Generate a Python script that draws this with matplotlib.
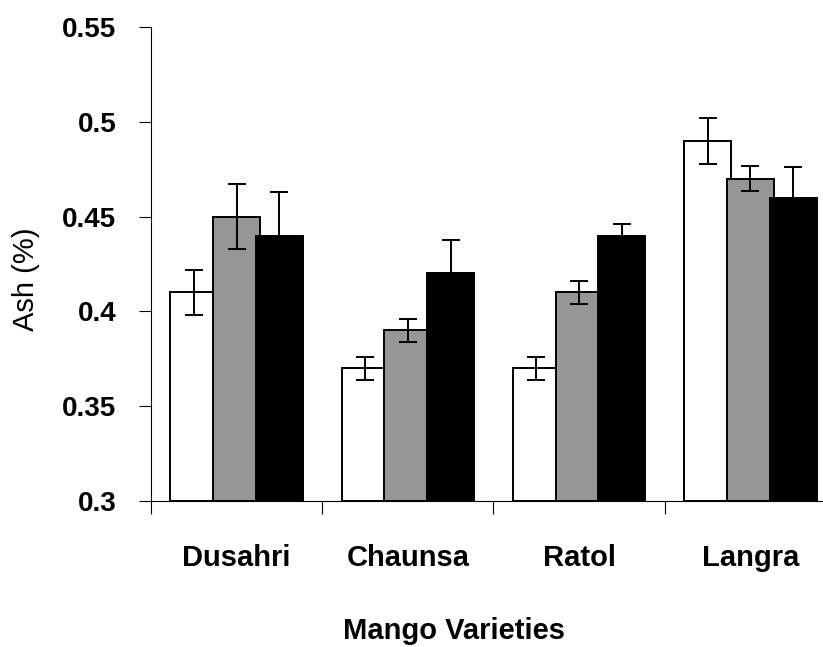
import numpy as np
import matplotlib
matplotlib.use("Agg")
import matplotlib.pyplot as plt

varieties = ["Dusahri", "Chaunsa", "Ratol", "Langra"]
series_a = [0.41, 0.37, 0.37, 0.49]
series_b = [0.45, 0.39, 0.41, 0.47]
series_c = [0.44, 0.42, 0.44, 0.46]
err_a = [0.012, 0.006, 0.006, 0.012]
err_b = [0.017, 0.006, 0.006, 0.0065]
err_c = [0.023, 0.0175, 0.006, 0.016]
y_ticks = [0.3, 0.35, 0.4, 0.45, 0.5, 0.55]
y_tick_labels = ["0.3", "0.35", "0.4", "0.45", "0.5", "0.55"]

plt.rcParams['font.family'] = ['Liberation Sans', 'DejaVu Sans']

fig = plt.figure(figsize=(8.23, 6.47), dpi=100)
ax = fig.add_axes([151/823, 1 - 501/647, 685/823, 474/647])

x = np.arange(len(varieties))
width = 0.275
offset = 0.25
series = [(series_a, err_a, 'white'), (series_b, err_b, '#969696'), (series_c, err_c, 'black')]
for i, (vals, errs, col) in enumerate(series):
    pos = x + (i - 1) * offset
    ax.bar(pos, np.array(vals) - 0.3, width, bottom=0.3, color=col,
           edgecolor='black', linewidth=1.4, zorder=2)
    ax.errorbar(pos, vals, yerr=errs, fmt='none', ecolor='black',
                elinewidth=1.4, capsize=6.5, capthick=1.4, zorder=3)

ax.set_xlim(-0.5, 3.5)
ax.set_ylim(0.3, 0.55)
ax.set_yticks(y_ticks)
ax.set_yticklabels(y_tick_labels, fontsize=20, fontweight='bold')
ax.set_xticks(x)
ax.set_xticklabels(varieties, fontsize=21, fontweight='bold')
ax.set_xticks(np.arange(-0.5, 3.6, 1.0), minor=True)
ax.tick_params(axis='x', which='major', length=0, pad=31)
ax.tick_params(axis='x', which='minor', length=9, width=0.8, direction='out')
ax.tick_params(axis='y', length=9, width=0.8, direction='out', pad=16)

for s in ['top', 'right']:
    ax.spines[s].set_visible(False)
for s in ['left', 'bottom']:
    ax.spines[s].set_linewidth(0.8)
    ax.spines[s].set_color('black')

fig.text(26/823, 1 - 279/647, "Ash (%)", rotation=90, ha='center', va='center', fontsize=21)
fig.text(454/823, 1 - 639/647, "Mango Varieties", ha='center', va='baseline',
         fontsize=21, fontweight='bold')

fig.savefig("out.png", dpi=100)
